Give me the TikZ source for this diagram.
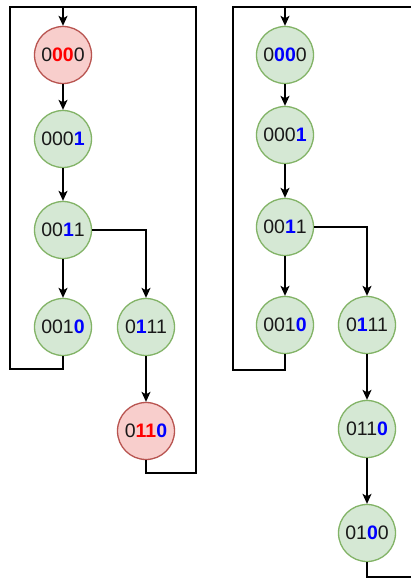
\documentclass[tikz,border=0pt]{standalone}
\usepackage{fontspec}
\setmainfont{Liberation Sans}
\usetikzlibrary{arrows.meta}
\definecolor{gfill}{HTML}{D5E8D4}
\definecolor{gline}{HTML}{82B366}
\definecolor{rfill}{HTML}{F8CECC}
\definecolor{rline}{HTML}{B85450}
\definecolor{rd}{HTML}{FF0000}
\definecolor{bl}{HTML}{0000FF}
\newcommand{\R}[1]{\textcolor{rd}{\textbf{#1}}}
\newcommand{\B}[1]{\textcolor{bl}{\textbf{#1}}}
\tikzset{
  st/.style={circle, minimum size=57pt, inner sep=0pt, line width=1.3pt,
    font=\fontsize{19.5}{22}\selectfont, text=black!90},
  gs/.style={st, draw=gline, fill=gfill},
  rs/.style={st, draw=rline, fill=rfill},
  ln/.style={line width=1.5pt, black},
  ar/.style={ln, -{Stealth[length=10pt,width=9pt,inset=2.5pt]}}
}
\begin{document}
\begin{tikzpicture}[x=1pt,y=-1pt]
\useasboundingbox (0,0) rectangle (411,578);
% left panel
\node[rs] (L0000) at (63,55) {0\R{00}0};
\node[gs] (L0001) at (63,139) {000\B{1}};
\node[gs] (L0011) at (63,230) {00\B{1}1};
\node[gs] (L0010) at (63,327) {001\B{0}};
\node[gs] (L0111) at (146,327) {0\B{1}11};
\node[rs] (L0110) at (146,431) {0\R{11}\B{0}};
\coordinate (Ltop) at (63,7);
\coordinate (Ltl) at (10,7);
\coordinate (Lbl) at (10,369);
\coordinate (Ltr) at (196,7);
\coordinate (Lbr) at (196,473);
\draw[ar] (Ltop) -- (L0000);
\draw[ar] (L0000) -- (L0001);
\draw[ar] (L0001) -- (L0011);
\draw[ar] (L0011) -- (L0010);
\draw[ar] (L0011.east) -| (L0111.north);
\draw[ar] (L0111) -- (L0110);
\draw[ln] (L0010.south) |- (Lbl) -- (Ltl) -- (Ltop);
\draw[ln] (L0110.south) |- (Lbr) -- (Ltr) -- (Ltop);
% right panel
\node[gs] (R0000) at (285,55) {0\B{00}0};
\node[gs] (R0001) at (285,135) {000\B{1}};
\node[gs] (R0011) at (285,227) {00\B{1}1};
\node[gs] (R0010) at (285,325) {001\B{0}};
\node[gs] (R0111) at (367,325) {0\B{1}11};
\node[gs] (R0110) at (367,429) {011\B{0}};
\node[gs] (R0100) at (367,533) {01\B{0}0};
\coordinate (Rtop) at (285,7);
\coordinate (Rtl) at (233,7);
\coordinate (Rbl) at (233,370);
\coordinate (Rtr) at (412,7);
\coordinate (Rbr) at (412,577);
\draw[ar] (Rtop) -- (R0000);
\draw[ar] (R0000) -- (R0001);
\draw[ar] (R0001) -- (R0011);
\draw[ar] (R0011) -- (R0010);
\draw[ar] (R0011.east) -| (R0111.north);
\draw[ar] (R0111) -- (R0110);
\draw[ar] (R0110) -- (R0100);
\draw[ln] (R0010.south) |- (Rbl) -- (Rtl) -- (Rtop);
\draw[ln] (Rtr) -- (Rtop);
\draw[ln] (R0100.south) |- (Rbr);
\end{tikzpicture}
\end{document}
